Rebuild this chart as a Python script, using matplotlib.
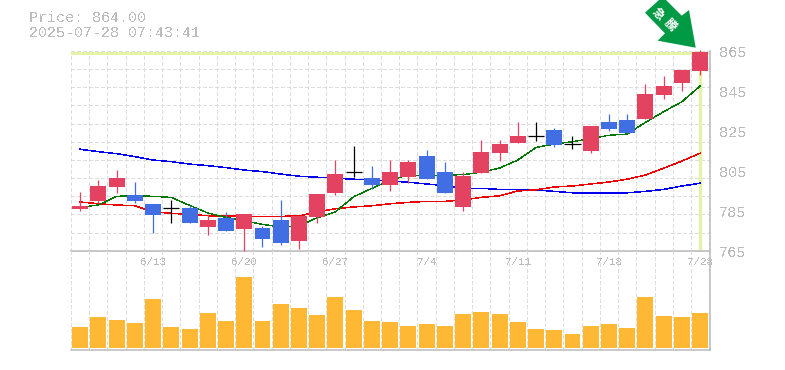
#!/usr/bin/env python3
"""Daily candles with moving averages and a volume panel."""

import matplotlib
matplotlib.use('Agg')
import matplotlib.pyplot as plt
import numpy as np
from matplotlib.patches import Polygon

matplotlib.rcParams['font.family'] = ['Liberation Mono', 'Noto Sans CJK JP']
matplotlib.rcParams['text.antialiased'] = False

W, H = 785, 370
RED = '#e34361'
BLUE = '#426ee3'
GRID = '#dddddd'
AXIS = '#bbbbbb'
TXT = '#bcbcbc'
DASH = (4, 2.8)

opens = [785.9, 789.9, 796.9, 792.9, 788.4, 786.3, 786.3, 776.9, 781.4, 775.9, 776.4, 780.4,
         769.9, 781.9, 793.9, 804.3, 801.4, 797.9, 801.9, 812.4, 804.4, 786.9, 803.9, 813.9,
         818.9, 822.3, 825.4, 818.4, 814.9, 829.4, 830.4, 830.9, 842.9, 848.9, 854.9]
closes = [787.3, 797.4, 801.4, 789.9, 782.9, 786.3, 778.9, 780.4, 774.9, 783.4, 770.9, 768.9,
          782.4, 793.4, 803.4, 804.3, 797.9, 804.4, 809.4, 800.9, 793.9, 802.4, 814.4, 818.4,
          822.4, 822.3, 817.9, 818.4, 827.4, 825.9, 823.9, 843.4, 847.4, 855.4, 864.4]
highs = [794.4, 800.4, 805.4, 799.4, 788.4, 790.4, 787.9, 783.4, 784.4, 783.4, 777.4, 790.4,
         782.4, 793.4, 810.4, 817.4, 807.4, 810.4, 810.4, 815.4, 809.4, 804.4, 820.4, 820.4,
         829.4, 829.4, 826.4, 822.4, 827.4, 833.4, 833.4, 848.4, 852.4, 855.4, 865.4]
lows = [784.9, 788.9, 793.9, 788.9, 773.9, 778.9, 778.9, 772.9, 774.9, 765.0, 766.9, 767.9,
        765.9, 778.9, 792.9, 801.9, 795.9, 794.9, 798.9, 800.9, 793.9, 784.9, 803.9, 809.9,
        818.9, 819.9, 816.9, 815.9, 813.9, 824.9, 823.9, 830.9, 840.9, 844.9, 852.9]

ma_short = [786.7, 787.9, 792.2, 792.7, 792.2, 791.7, 787.7, 783.9, 781.7, 779.9, 778.2, 776.9,
            777.4, 781.5, 784.5, 792.0, 796.2, 800.4, 802.9, 802.6, 802.8, 803.1, 804.3, 806.4,
            810.4, 816.7, 818.4, 819.6, 821.1, 822.8, 823.4, 829.3, 834.6, 839.6, 847.5]
ma_mid = [789.4, 788.5, 787.9, 787.5, 784.5, 783.7, 783.2, 782.5, 782.4, 782.2, 782.2, 782.2,
          782.4, 784.4, 786.0, 786.9, 787.5, 788.5, 789.2, 789.7, 789.7, 790.4, 791.7, 792.5,
          794.9, 795.5, 796.9, 797.4, 798.4, 799.4, 800.8, 802.9, 806.3, 809.9, 813.8]
ma_long = [815.8, 814.6, 813.6, 812.1, 810.4, 809.6, 808.4, 807.6, 806.6, 805.4, 804.6, 803.4,
           802.3, 801.8, 801.3, 800.8, 800.4, 799.9, 799.3, 798.4, 797.6, 796.2, 796.2, 795.7,
           795.5, 795.4, 794.7, 794.0, 794.0, 794.0, 794.0, 794.7, 795.7, 797.4, 798.8]
volume = [21, 31, 28, 25, 49, 21, 19, 35, 27, 71, 27, 44, 40, 33, 51, 38, 27, 26,
          22, 24, 22, 34, 36, 34, 26, 19, 18, 14, 22, 24, 20, 51, 32, 31, 35]

date_pos = [4, 9, 14, 19, 24, 29, 34]
date_labels = ['6/13', '6/20', '6/27', '7/4', '7/11', '7/18', '7/28']
price_ticks = [865, 845, 825, 805, 785, 765]
last_price = 864.0

fig = plt.figure(figsize=(W / 100, H / 100), dpi=100, facecolor='white')


def axes_px(x0, y0, x1, y1):
    return fig.add_axes([x0 / W, 1 - y1 / H, (x1 - x0) / W, (y1 - y0) / H])


ax = axes_px(71, 51, 710, 250.7)
vol = axes_px(71, 250.7, 710, 350)
x = np.arange(len(opens))

for a in (ax, vol):
    a.set_xlim(-0.5, 34.54)
    a.set_xticks([])
    a.set_yticks([])
    a.patch.set_alpha(0)
    for i in np.arange(-0.5, 34.6):
        a.axvline(i, color=GRID, lw=0.72, dashes=DASH, zorder=0, antialiased=False)
    a.spines['top'].set_visible(False)
    a.spines['left'].set_visible(False)
    a.spines['right'].set_color(AXIS)
    a.spines['bottom'].set_color(AXIS)
    a.spines['right'].set_linewidth(1.1)
    a.spines['bottom'].set_linewidth(1.1)

ax.set_ylim(765, 865)
vol.set_ylim(-2, 97.3)

# Horizontal guides every 18 px or so
for y in np.arange(765, 866, 100 / 11):
    ax.axhline(y, color=GRID, lw=0.72, dashes=DASH, zorder=0, clip_on=False, antialiased=False)

# Current price cross-hair
ax.axhline(last_price, color='#e4f3a8', lw=2.2, zorder=1)
ax.axvline(x[-1], color='#e4f3a8', lw=2.4, zorder=1)

ax.plot(x, ma_long, color='#0000ee', lw=0.35, zorder=2, antialiased=False)
ax.plot(x, ma_mid, color='#ee0000', lw=0.35, zorder=2, antialiased=False)
ax.plot(x, ma_short, color='#007700', lw=0.25, zorder=2, antialiased=False)

for i in x:
    if opens[i] == closes[i]:
        col = 'black'
    elif closes[i] > opens[i]:
        col = RED
    else:
        col = BLUE
    ax.vlines(i, lows[i], highs[i], color=col, lw=0.9, zorder=3, clip_on=False)
    if col == 'black':
        ax.hlines(opens[i], i - 0.44, i + 0.44, color=col, lw=0.9, zorder=3)
    else:
        ax.bar(i, abs(closes[i] - opens[i]), 0.875, bottom=min(opens[i], closes[i]),
               color=col, zorder=4, clip_on=False)

vol.bar(x, volume, 0.875, color='#ffb833', zorder=2)

for p in price_ticks:
    ax.text(719 / W, 1 - (250.7 - (p - 765) * 1.997 + 2) / H, str(p), transform=fig.transFigure,
            ha='left', va='center', fontsize=11, color=TXT)
for pos, lab in zip(date_pos, date_labels):
    vol.text(pos, 86, lab, ha='center', va='center', fontsize=7.8, color=TXT, zorder=5, clip_on=False)

fig.text(29 / W, 1 - 18 / H, 'Price: 864.00', ha='left', va='center', fontsize=10.8, color=TXT)
fig.text(29 / W, 1 - 33 / H, '2025-07-28 07:43:41', ha='left', va='center', fontsize=10.8, color=TXT)

# Green arrow badge
arrow = [(645, 12.7), (659, 0), (666, 0), (681.7, 15.7), (689, 10), (695.7, 47.7),
         (657.7, 40.7), (665, 33.3)]
arrow = [(px / W, 1 - py / H) for px, py in arrow]
fig.add_artist(Polygon(arrow, closed=True, transform=fig.transFigure, facecolor='#009a44',
                       edgecolor='none', zorder=6))
fig.text(658 / W, 1 - 14 / H, '急', rotation=-45, ha='center', va='center', fontsize=8.5,
         color='white', fontweight='bold', family='Noto Sans CJK JP', zorder=7, antialiased=True)
fig.text(670 / W, 1 - 25 / H, '騰', rotation=-45, ha='center', va='center', fontsize=8.5,
         color='white', fontweight='bold', family='Noto Sans CJK JP', zorder=7, antialiased=True)

fig.savefig('out.png', dpi=100, facecolor='white')
